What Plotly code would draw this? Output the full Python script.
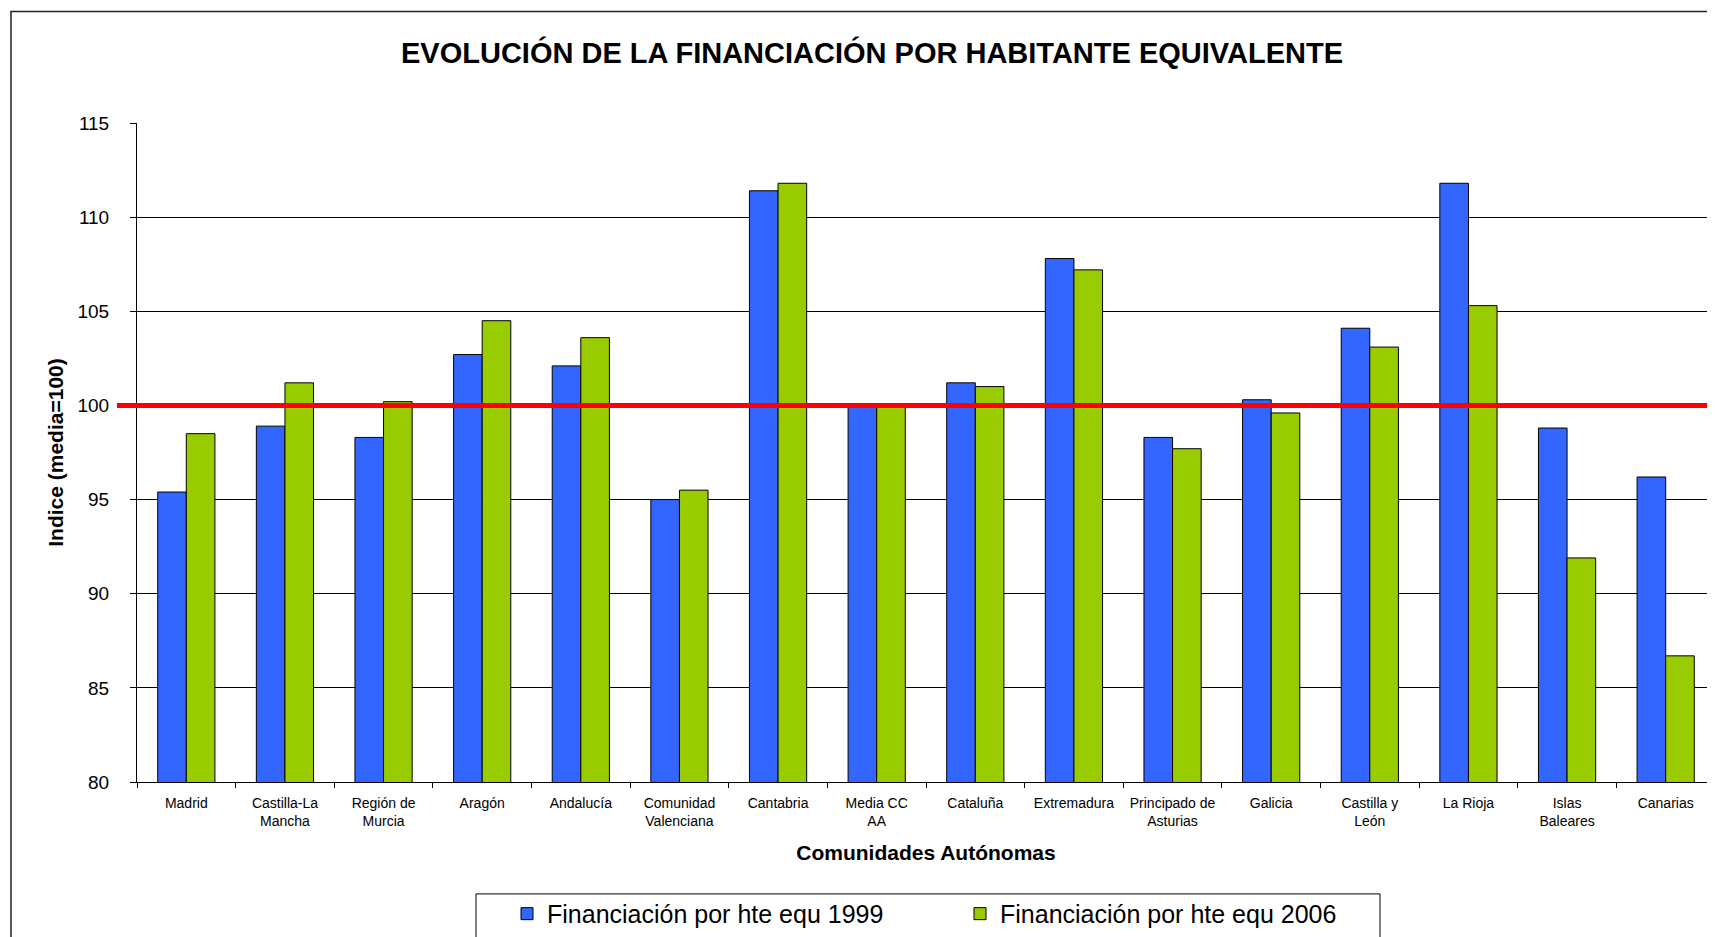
import plotly.graph_objects as go

categories = ["Madrid", "Castilla-La<br>Mancha", "Región de<br>Murcia", "Aragón", "Andalucía",
              "Comunidad<br>Valenciana", "Cantabria", "Media CC<br>AA", "Cataluña", "Extremadura",
              "Principado de<br>Asturias", "Galicia", "Castilla y<br>León", "La Rioja",
              "Islas<br>Baleares", "Canarias"]
values_1999 = [95.4, 98.9, 98.3, 102.7, 102.1, 95.0, 111.4, 100.0, 101.2, 107.8,
               98.3, 100.3, 104.1, 111.8, 98.8, 96.2]
values_2006 = [98.5, 101.2, 100.2, 104.5, 103.6, 95.5, 111.8, 100.0, 101.0, 107.2,
               97.7, 99.6, 103.1, 105.3, 91.9, 86.7]
series_names = ["Financiación por hte equ 1999", "Financiación por hte equ 2006"]
reference_value = 100
y_ticks = [80, 85, 90, 95, 100, 105, 110, 115]

FONT = "Arial, 'Liberation Sans', sans-serif"

fig = go.Figure()
fig.add_trace(go.Bar(x=categories, y=values_1999, name=series_names[0],
                     marker=dict(color="#3366FF", line=dict(color="black", width=1))))
fig.add_trace(go.Bar(x=categories, y=values_2006, name=series_names[1],
                     marker=dict(color="#99CC00", line=dict(color="black", width=1))))

# figure is offset by the 8px page margin of the html body
W, H = 1707, 929
L, R, T, B = 129, 0, 114.5, 155
pw = W - L - R
ph = H - T - B

# red reference line at 100
fig.add_shape(type="line", xref="paper", yref="y",
              x0=(109 - L) / pw, x1=1.0, y0=reference_value, y1=reference_value,
              line=dict(color="#FF0000", width=5), layer="above")
# outer chart border (cropped)
fig.add_shape(type="rect", xref="paper", yref="paper",
              x0=(3 - L) / pw, x1=1.05, y0=-0.5, y1=(H - B - 3) / ph,
              line=dict(color="#222", width=1.5), fillcolor="rgba(0,0,0,0)", layer="below")
# legend frame
fig.add_shape(type="rect", xref="paper", yref="paper",
              x0=(468 - L) / pw, x1=(1372 - L) / pw, y0=(H - B - 960) / ph, y1=(H - B - 886) / ph,
              line=dict(color="black", width=1), fillcolor="white", layer="below")

fig.update_layout(
    width=W, height=H,
    margin=dict(l=L, r=R, t=T, b=B, autoexpand=False),
    paper_bgcolor="white", plot_bgcolor="white",
    barmode="group", bargap=0.42, bargroupgap=0,
    font=dict(family=FONT, color="black"),
    title=dict(text="<b>EVOLUCIÓN DE LA FINANCIACIÓN POR HABITANTE EQUIVALENTE</b>",
               x=864 / W, xanchor="center", xref="container", y=1 - 44.5 / H, yanchor="middle",
               yref="container", font=dict(size=29, family=FONT, color="black")),
    showlegend=True,
    legend=dict(orientation="h", x=(499 - L) / pw, xanchor="left", y=(H - B - 883) / ph,
                yanchor="top", borderwidth=0, bgcolor="rgba(0,0,0,0)",
                font=dict(size=25, family=FONT), entrywidth=408, entrywidthmode="pixels",
                traceorder="normal"),
    xaxis=dict(showline=True, linecolor="black", linewidth=1, ticks="outside",
               tickson="boundaries", ticklen=5, tickcolor="black", ticklabelstandoff=8,
               tickfont=dict(size=14, family=FONT),
               title=dict(text="<b>Comunidades Autónomas</b>", font=dict(size=21, family=FONT),
                          standoff=17),
               range=[-0.5, len(categories) - 0.5]),
    yaxis=dict(range=[80, 115], tickvals=y_ticks, showline=True, linecolor="black", linewidth=1,
               ticks="outside", ticklen=6, tickcolor="black", ticklabelstandoff=17,
               tickfont=dict(size=19, family=FONT), showgrid=True, gridcolor="black",
               gridwidth=1, zeroline=False,
               title=dict(text="<b>Indice (media=100)</b>", font=dict(size=21, family=FONT),
                          standoff=8)),
)

fig.write_html("out.html")
